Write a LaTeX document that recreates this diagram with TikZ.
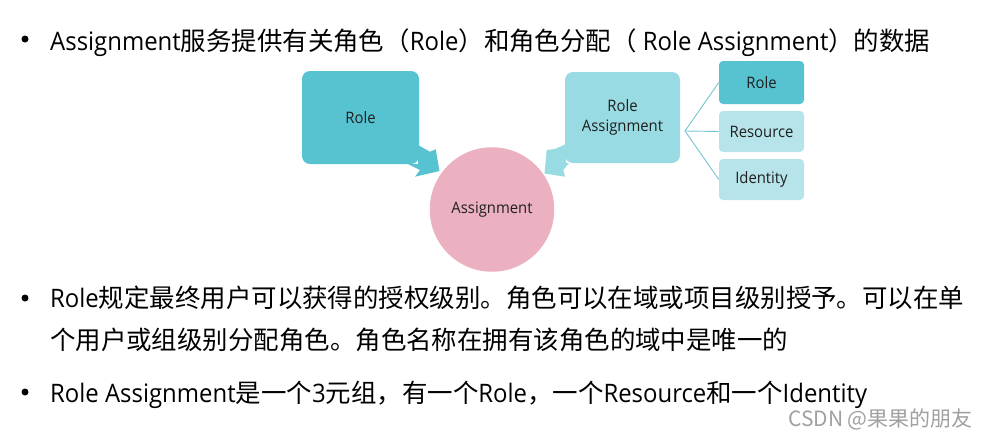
\documentclass[tikz,border=0pt]{standalone}
\usepackage{fontspec}
\setmainfont{Open Sans}[FakeStretch=0.94]
\newfontfamily\cjk{Noto Sans CJK SC}
\definecolor{tealA}{RGB}{87,195,209}
\definecolor{tealB}{RGB}{152,219,226}
\definecolor{tealC}{RGB}{182,228,234}
\definecolor{pinkA}{RGB}{236,177,192}
\definecolor{lineA}{RGB}{115,197,210}
\definecolor{wmgray}{RGB}{160,160,160}
\begin{document}
\begin{tikzpicture}[x=1pt,y=-1pt,
  maintext/.style={anchor=base west, inner sep=0pt, font=\fontsize{25.45}{30}\selectfont, text=black},
  diag/.style={inner sep=0pt, font=\fontsize{15.8}{19.5}\selectfont, text=black!88, align=center},
  bigbox/.style={diag, rounded corners=8pt},
  smallbox/.style={diag, rounded corners=4pt, minimum width=85pt},
  link/.style={draw=lineA, line width=0.9pt},
  bulletdot/.style={circle, fill=black, inner sep=0pt, minimum size=7pt}
]
\useasboundingbox (0,0) rectangle (989,440);

% bullets
\node[bulletdot] (b1) at (25,39) {};
\node[bulletdot] (b2) at (25,298) {};
\node[bulletdot] (b3) at (25,392) {};

% text lines
\node[maintext] (t1) at (50,50) {Assignment{\cjk 服务提供有关角色（}Role{\cjk ）和角色分配（} Role Assignment{\cjk ）的数据}};
\node[maintext] (t2a) at (50,307) {Role{\cjk 规定最终用户可以获得的授权级别。角色可以在域或项目级别授予。可以在单}};
\node[maintext] (t2b) at (50,349) {{\cjk 个用户或组级别分配角色。角色名称在拥有该角色的域中是唯一的}};
\node[maintext] (t3) at (50,402) {Role Assignment{\cjk 是一个}3{\cjk 元组，有一个}Role{\cjk ，一个}Resource{\cjk 和一个}Identity};

% watermark
\node[anchor=base east, inner sep=0pt, font=\cjk\fontsize{21}{24}\selectfont, text=wmgray] (wm) at (973,426) {CSDN @果果的朋友};

% Role callout box
\node[bigbox, fill=tealA, minimum width=117pt, minimum height=93pt] (role) at (360.5,117.5) {Role};
\fill[tealA] (418,145) -- (430,151.7) -- (435.7,149.3) -- (439.5,171) -- (415,176.7) -- (420,170) -- (408,164) -- (418,164) -- cycle;

% Role Assignment callout box
\node[bigbox, fill=tealB, minimum width=115pt, minimum height=91pt] (ra) at (622.5,117.5) {Role\\Assignment};
\fill[tealB] (566,144) -- (555,149) -- (546.7,150) -- (544.5,173.5) -- (565,176.7) -- (563.3,170) -- (569,163) -- (566,163) -- cycle;

% Assignment circle
\node[circle, diag, fill=pinkA, minimum size=124.5pt] (asg) at (492,209.5) {Assignment};

% right boxes
\node[smallbox, fill=tealA, minimum height=43pt] (r1) at (761.5,82.5) {Role};
\node[smallbox, fill=tealC, minimum height=41pt] (r2) at (761.5,131.5) {Resource};
\node[smallbox, fill=tealC, minimum height=41pt] (r3) at (761.5,179.5) {Identity};

\coordinate (fork) at (685,131);
\draw[link] (fork) -- (r1.west);
\draw[link] (fork) -- (r2.west);
\draw[link] (fork) -- (r3.west);
\end{tikzpicture}
\end{document}
